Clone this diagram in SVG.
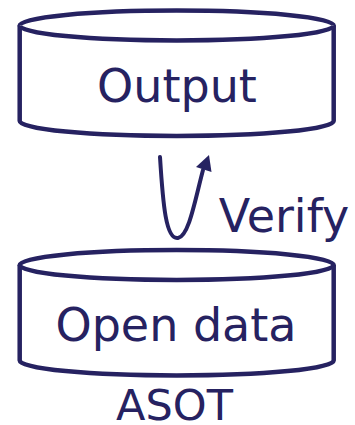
<svg xmlns="http://www.w3.org/2000/svg" width="355" height="425" viewBox="0 0 355 425">
<style>
.cyl{fill:#ffffff;stroke:#262261;stroke-width:4.5;stroke-linejoin:round}
.lbl{font-family:"DejaVu Sans",Verdana,sans-serif;font-size:46px;fill:#262261;text-anchor:middle}
</style>
<rect width="355" height="425" fill="#ffffff"/>
<g id="output">
<path class="cyl" d="M19.7,25.5 A157,15 0 0 1 333.7,25.5 V121 A157,15 0 0 1 19.7,121 Z"/>
<path class="cyl" fill="none" d="M19.7,25.5 A157,15 0 0 0 333.7,25.5"/>
<text class="lbl" x="177" y="102">Output</text>
</g>
<g id="opendata">
<path class="cyl" d="M19.7,265 A157,15 0 0 1 333.7,265 V360.5 A157,15 0 0 1 19.7,360.5 Z"/>
<path class="cyl" fill="none" d="M19.7,265 A157,15 0 0 0 333.7,265"/>
<text class="lbl" x="176" y="341">Open data</text>
</g>
<text id="asot" class="lbl" x="174.5" y="419.5" style="font-size:43px">ASOT</text>
<g id="connectors">
<path d="M160,157 C163,205 166,240 178,238 C189,236 195,200 203,170" fill="none" stroke="#262261" stroke-width="4" stroke-linecap="round"/>
<polygon points="209,155 211.5,172 196,167" fill="#262261"/>
<text class="lbl" x="284" y="232">Verify</text>
</g>
</svg>
